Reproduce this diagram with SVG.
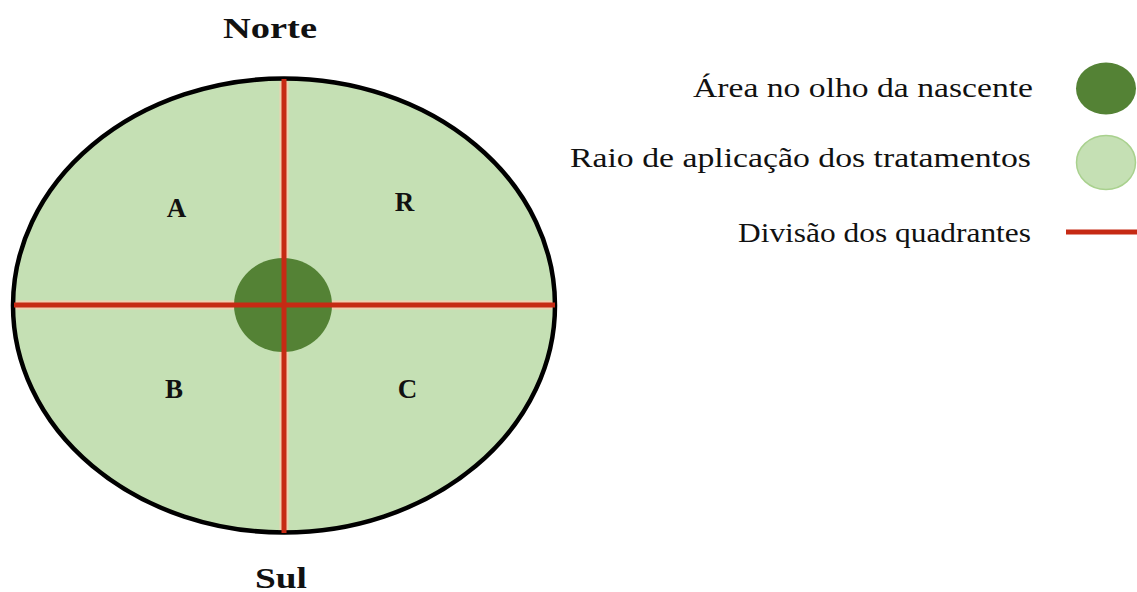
<svg xmlns="http://www.w3.org/2000/svg" width="1137" height="592" viewBox="0 0 1137 592">
  <style>
    .title { font-family: "Liberation Serif", "Times New Roman", serif; font-weight: bold; font-size: 30px; fill: #111; }
    .quad { font-family: "Liberation Serif", "Times New Roman", serif; font-weight: bold; font-size: 27px; fill: #111; text-anchor: middle; }
    .leg { font-family: "Liberation Serif", "Times New Roman", serif; font-size: 28px; fill: #111; text-anchor: end; }
    .light { fill: #c5e0b4; }
    .dark { fill: #548235; }
    .red { stroke: #c62a14; stroke-width: 5; fill: none; }
    .halo { stroke: #efcfb0; stroke-width: 9; fill: none; }
  </style>
  <rect width="1137" height="592" fill="#ffffff"/>

  <g id="area-tratamento">
    <ellipse class="light" cx="284" cy="305.5" rx="271" ry="227" stroke="#000" stroke-width="4.5"/>
    <line class="halo" x1="284" y1="82" x2="284" y2="530"/>
    <line class="halo" x1="16" y1="305" x2="552" y2="305"/>
  </g>
  <g id="olho-nascente">
    <ellipse class="dark" cx="283" cy="305" rx="49" ry="47"/>
  </g>

  <g id="connectors">
    <line class="red" x1="284" y1="79" x2="284" y2="533"/>
    <line class="red" x1="14" y1="305" x2="555" y2="305"/>
  </g>

  <g id="labels">
    <text class="title" x="270" y="38" text-anchor="middle" textLength="94" lengthAdjust="spacingAndGlyphs">Norte</text>
    <text class="title" x="281" y="588" text-anchor="middle" textLength="52" lengthAdjust="spacingAndGlyphs">Sul</text>
    <text class="quad" x="176.5" y="217">A</text>
    <text class="quad" x="404.5" y="211">R</text>
    <text class="quad" x="174" y="398">B</text>
    <text class="quad" x="407.5" y="398">C</text>
  </g>

  <g id="legend">
    <g id="legend-olho">
      <text class="leg" x="1033" y="97" textLength="340" lengthAdjust="spacingAndGlyphs">Área no olho da nascente</text>
      <ellipse class="dark" cx="1106" cy="88.5" rx="30" ry="26"/>
    </g>
    <g id="legend-raio">
      <text class="leg" x="1031" y="167" textLength="461" lengthAdjust="spacingAndGlyphs">Raio de aplicação dos tratamentos</text>
      <ellipse class="light" cx="1106" cy="162.5" rx="29.5" ry="27" stroke="#a9d18e" stroke-width="1.5"/>
    </g>
    <g id="legend-divisao">
      <text class="leg" x="1031" y="242" textLength="293" lengthAdjust="spacingAndGlyphs">Divisão dos quadrantes</text>
      <line class="red" x1="1066" y1="232" x2="1137" y2="232"/>
    </g>
  </g>
</svg>
